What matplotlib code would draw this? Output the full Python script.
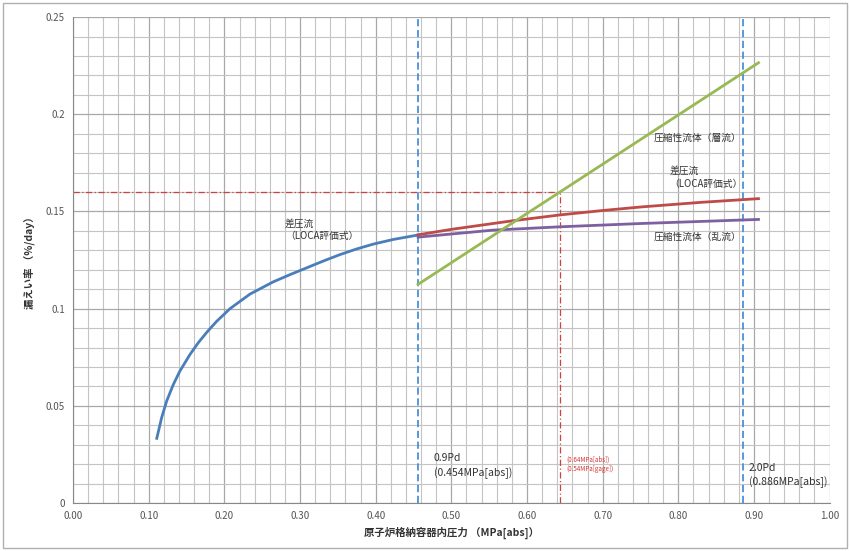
import matplotlib
matplotlib.use("Agg")
import matplotlib.pyplot as plt
from matplotlib.patches import Rectangle
import numpy as np

plt.rcParams['font.family'] = ['Noto Sans CJK JP', 'DejaVu Sans']

# Data
blue_x = [0.1106, 0.1171, 0.1237, 0.1325, 0.1413, 0.1546, 0.1655, 0.1766, 0.1898, 0.2074,
          0.2338, 0.2646, 0.2867, 0.3087, 0.3307, 0.3527, 0.3747, 0.3967, 0.4231, 0.456]
blue_y = [0.0333, 0.0440, 0.0525, 0.0610, 0.0680, 0.0765, 0.0825, 0.0878, 0.0935, 0.1000,
          0.1075, 0.1138, 0.1175, 0.1210, 0.1245, 0.1278, 0.1307, 0.1332, 0.1356, 0.1379]
red_x = [0.456, 0.50, 0.577, 0.643, 0.70, 0.753, 0.83, 0.906]
red_y = [0.1380, 0.1408, 0.1450, 0.1482, 0.1505, 0.1524, 0.1547, 0.1566]
purple_x = [0.456, 0.555, 0.643, 0.75, 0.906]
purple_y = [0.1368, 0.1404, 0.1421, 0.1438, 0.1459]
green_x = [0.456, 0.906]
green_y = [0.1125, 0.2265]
vline_09pd = 0.456
vline_20pd = 0.886
ref_x = 0.644
ref_y = 0.16
x_ticks = [0.0, 0.1, 0.2, 0.3, 0.4, 0.5, 0.6, 0.7, 0.8, 0.9, 1.0]
x_ticklabels = ["0.00", "0.10", "0.20", "0.30", "0.40", "0.50", "0.60", "0.70", "0.80", "0.90", "1.00"]
y_ticks = [0, 0.05, 0.1, 0.15, 0.2, 0.25]
y_ticklabels = ["0", "0.05", "0.1", "0.15", "0.2", "0.25"]

fig = plt.figure(figsize=(8.5, 5.51), dpi=100)
fig.patches.append(Rectangle((0.004, 0.005), 0.992, 0.99, transform=fig.transFigure,
                             fill=False, edgecolor='#b0b0b0', lw=1))
ax = fig.add_axes([0.086, 0.087, 0.890, 0.882])
ax.set_xlim(0, 1.0)
ax.set_ylim(0, 0.25)

ax.set_xticks(np.arange(0, 1.0001, 0.02), minor=True)
ax.set_yticks(np.arange(0, 0.2501, 0.01), minor=True)
ax.set_xticks(x_ticks)
ax.set_xticklabels(x_ticklabels)
ax.set_yticks(y_ticks)
ax.set_yticklabels(y_ticklabels)
ax.grid(which='major', color='#a8a8a8', lw=0.9)
ax.grid(which='minor', color='#c4c4c4', lw=0.8)
ax.set_axisbelow(True)
ax.tick_params(which='both', length=0, labelsize=7, colors='#555555', pad=6)
for s in ['top', 'right']:
    ax.spines[s].set_visible(False)
ax.spines['left'].set_color('#888888')
ax.spines['bottom'].set_color('#888888')

ax.plot([0, ref_x], [ref_y, ref_y], color='#d04040', lw=0.9, ls=(0, (5, 2, 1, 2)))
ax.plot([ref_x, ref_x], [0, ref_y], color='#d04040', lw=0.9, ls=(0, (5, 2, 1, 2)))
ax.axvline(vline_09pd, color='#4a90d9', lw=1.3, ls=(0, (4, 2)))
ax.axvline(vline_20pd, color='#4a90d9', lw=1.3, ls=(0, (4, 2)))

ax.plot(blue_x, blue_y, color='#4a7ebb', lw=2, solid_joinstyle='round')
ax.plot(red_x, red_y, color='#be4b48', lw=2, solid_joinstyle='round')
ax.plot(purple_x, purple_y, color='#7d60a0', lw=2, solid_joinstyle='round')
ax.plot(green_x, green_y, color='#98b954', lw=2)

tc = '#333333'
ax.text(0.28, 0.1465, "差圧流\n（LOCA評価式）", fontsize=7, color=tc, va='top', linespacing=1.4)
ax.text(0.768, 0.1905, "圧縮性流体（層流）", fontsize=7, color=tc, va='top')
ax.text(0.788, 0.1735, "差圧流\n（LOCA評価式）", fontsize=7, color=tc, va='top', linespacing=1.4)
ax.text(0.768, 0.1395, "圧縮性流体（乱流）", fontsize=7, color=tc, va='top')
ax.text(0.477, 0.0255, "0.9Pd\n(0.454MPa[abs])", fontsize=7.5, color=tc, va='top', linespacing=1.4)
ax.text(0.893, 0.0205, "2.0Pd\n(0.886MPa[abs])", fontsize=7.5, color=tc, va='top', linespacing=1.4)
ax.text(0.652, 0.0245, "(0.64MPa[abs])\n(0.54MPa[gage])", fontsize=4.5, color='#e03030', va='top', linespacing=1.3)

ax.set_xlabel("原子炉格納容器内圧力 （MPa[abs]）", fontsize=7.5, color='#333333', fontweight='bold', labelpad=4)
ax.set_ylabel("漏えい率 （%/day）", fontsize=7.5, color='#333333', fontweight='bold', labelpad=8)

fig.savefig("out.png", dpi=100)
